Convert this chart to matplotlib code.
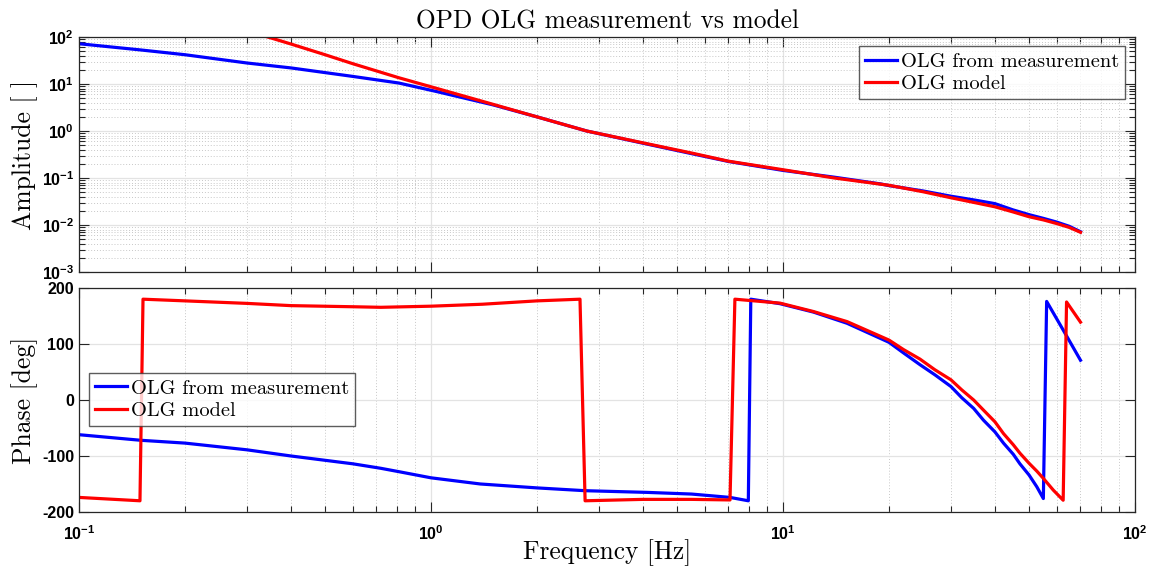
import matplotlib
matplotlib.use("Agg")
import matplotlib.pyplot as plt
import numpy as np
from matplotlib.ticker import LogLocator, FixedLocator, NullFormatter

# --- amplitude ---
f_amp_meas = [0.1, 0.15, 0.2, 0.3, 0.4, 0.6, 0.81, 1.03, 1.5, 2.0, 2.77, 4.0, 5.5, 7.0,
              10.0, 14.0, 18.9, 20.0, 25.0, 30.0, 35.0, 40.0, 45.0, 50.0, 55.0, 60.0,
              65.0, 70.0]
amp_meas = [72, 53, 42, 28, 22, 14.5, 10.5, 7.0, 3.6, 2.0, 1.0, 0.55, 0.33, 0.225,
            0.145, 0.104, 0.075, 0.069, 0.053, 0.041, 0.034, 0.0285, 0.021, 0.0166, 0.0138,
            0.0115, 0.0094, 0.0072]

f_amp_model = [0.344, 0.4, 0.5, 0.6, 0.81, 1.03, 1.5, 2.0, 2.77, 4.0, 5.5, 7.0, 10.0,
               14.0, 20.0, 25.0, 30.0, 35.0, 40.0, 45.0, 50.0, 55.0, 60.0, 65.0, 70.0]
amp_model = [100, 71, 42, 27, 13.6, 8.2, 3.7, 2.0, 1.0, 0.56, 0.34, 0.228, 0.15,
             0.1, 0.07, 0.051, 0.038, 0.030, 0.0244, 0.019, 0.015, 0.0128, 0.0107, 0.0089,
             0.007]

# --- phase ---
f_ph_meas = [0.1, 0.15, 0.2, 0.3, 0.4, 0.6, 0.72, 0.81, 1.0, 1.38, 2.0, 2.74, 4.1, 5.5,
             7.07, 7.97, 8.1, 9.8, 12.2, 15.2, 20.0, 22.0, 24.5, 27.0, 30.0, 32.2, 34.8,
             37.1, 40.0, 42.3, 45.1, 47.1, 50.0, 52.6, 54.9, 56.1, 62.5, 70.0]
ph_meas = [-62, -72, -77, -89, -100, -114, -122, -128, -139, -150, -157, -162, -165, -168,
           -174, -180, 180, 172, 157, 137, 103, 84, 63, 45, 24, 4, -15,
           -36, -57, -77, -97, -114, -134, -155, -176, 176, 125, 71]

f_ph_model = [0.1, 0.149, 0.152, 0.2, 0.3, 0.4, 0.6, 0.72, 1.0, 1.4, 2.0, 2.65, 2.74,
              4.0, 5.5, 7.07, 7.3, 9.8, 12.2, 15.2, 20.0, 22.0, 24.5, 27.0, 30.0, 32.2,
              34.8, 37.1, 40.0, 42.3, 45.1, 47.1, 50.0, 52.6, 54.9, 58.6, 62.5, 63.9, 70.0]
ph_model = [-174, -180, 180, 177, 172.5, 168.5, 166.5, 165.5, 167.5, 171, 177, 180, -180,
            -177.5, -177.5, -178.5, 180, 173, 158, 140, 107, 90, 73, 54, 36, 18,
            0, -18, -39, -60, -80, -95, -113, -127, -140, -161, -179, 175, 139]

labels = ['OLG from measurement', 'OLG model']
c_meas = '#0000ff'
c_model = '#ff0000'

plt.rcParams['axes.unicode_minus'] = False
plt.rcParams['font.family'] = 'Liberation Sans'
plt.rcParams['font.weight'] = 'bold'

fig = plt.figure(figsize=(11.55, 5.73), dpi=100)
ax1 = fig.add_axes([0.0684, 0.5253, 0.9143, 0.4101])
ax2 = fig.add_axes([0.0684, 0.1065, 0.9143, 0.3909])

serif = dict(fontfamily='cmr10', fontweight='normal')
leg_kw = dict(prop={'family': 'cmr10', 'size': 14.7}, fancybox=False,
              edgecolor='#333333', handlelength=1.55, handletextpad=0.2,
              borderpad=0.3, labelspacing=0.2, borderaxespad=0)

# amplitude
ax1.loglog(f_amp_meas, amp_meas, color=c_meas, lw=2.3, label=labels[0])
ax1.loglog(f_amp_model, amp_model, color=c_model, lw=2.3, label=labels[1])
ax1.set_xlim(0.1, 100)
ax1.set_ylim(1e-3, 1e2)
ax1.yaxis.set_major_locator(LogLocator(base=10, numticks=10))
ax1.yaxis.set_minor_locator(LogLocator(base=10, subs=np.arange(2, 10), numticks=20))
ax1.xaxis.set_major_locator(LogLocator(base=10, numticks=10))
ax1.xaxis.set_minor_locator(LogLocator(base=10, subs=np.arange(2, 10), numticks=20))
ax1.xaxis.set_major_formatter(NullFormatter())
ax1.xaxis.set_minor_formatter(NullFormatter())
ax1.yaxis.set_minor_formatter(NullFormatter())
ax1.grid(True, which='major', color='#e3e3e3', lw=0.9, ls='-')
ax1.grid(True, which='minor', color='#c8c8c8', lw=0.7, ls=(0, (1, 2)))
ax1.set_ylabel('Amplitude [ ]', fontsize=18.5, labelpad=3, **serif)
ax1.set_title('OPD OLG measurement vs model', fontsize=18.3, pad=6, **serif)
leg1 = ax1.legend(loc='upper right', bbox_to_anchor=(0.9905, 0.96), **leg_kw)
leg1.get_frame().set_linewidth(1.0)

# phase
ax2.semilogx(f_ph_meas, ph_meas, color=c_meas, lw=2.3, label=labels[0])
ax2.semilogx(f_ph_model, ph_model, color=c_model, lw=2.3, label=labels[1])
ax2.set_xlim(0.1, 100)
ax2.set_ylim(-200, 200)
ax2.yaxis.set_major_locator(FixedLocator([-200, -100, 0, 100, 200]))
ax2.xaxis.set_major_locator(LogLocator(base=10, numticks=10))
ax2.xaxis.set_minor_locator(LogLocator(base=10, subs=np.arange(2, 10), numticks=20))
ax2.xaxis.set_minor_formatter(NullFormatter())
ax2.grid(True, which='major', color='#e3e3e3', lw=0.9, ls='-')
ax2.grid(True, which='minor', axis='x', color='#c8c8c8', lw=0.7, ls=(0, (1, 2)))
ax2.set_ylabel('Phase [deg]', fontsize=18.5, labelpad=3, **serif)
ax2.set_xlabel('Frequency [Hz]', fontsize=18.3, labelpad=-3, **serif)
leg2 = ax2.legend(loc='upper left', bbox_to_anchor=(0.0095, 0.62), **leg_kw)
leg2.get_frame().set_linewidth(1.0)

for ax in (ax1, ax2):
    ax.set_axisbelow(True)
    ax.tick_params(which='both', direction='in', top=True, right=True,
                   labelsize=11.5, width=0.8, color='#262626')
    ax.tick_params(which='major', length=7)
    ax.tick_params(which='minor', length=4)
    for s in ax.spines.values():
        s.set_color('#262626')
        s.set_linewidth(0.9)
    for t in ax.get_xticklabels() + ax.get_yticklabels():
        t.set_fontweight('bold')
ax2.tick_params(axis='x', which='major', pad=9)

fig.savefig('out.png', dpi=100)
